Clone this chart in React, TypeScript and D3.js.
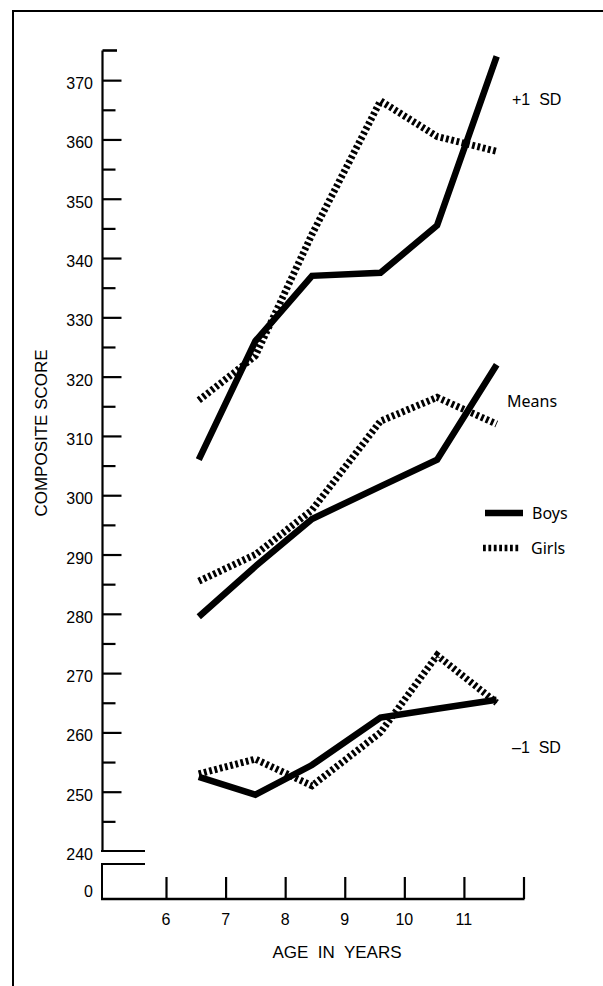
import React, { useEffect, useRef } from 'react';
import * as d3 from 'd3';

// ages of the six groups (mean age)
const ages = [6.55, 7.5, 8.45, 9.6, 10.55, 11.55];

// composite scores
const boysPlusSD = [306, 326, 337, 337.5, 345.5, 374];
const girlsPlusSD = [316, 323.5, 344, 366.5, 360.5, 358];
const boysMeans = [279.5, 288, 296, 301.5, 306, 322];
const girlsMeans = [285.5, 290, 297.5, 312.5, 316.5, 312];
const boysMinusSD = [252.5, 249.5, 254.5, 262.5, 264, 265.5];
const girlsMinusSD = [253, 255.5, 251, 260, 273, 265];

const yMajorTicks = [250, 260, 270, 280, 290, 300, 310, 320, 330, 340, 350, 360, 370];
const yMinorTicks = [245, 255, 265, 275, 285, 295, 305, 315, 325, 335, 345, 355, 365];
const yLabels = [240, 250, 260, 270, 280, 290, 300, 310, 320, 330, 340, 350, 360, 370];
const xTicks = [6, 7, 8, 9, 10, 11, 12];
const xLabels = ['6', '7', '8', '9', '10', '11', ''];

const groupLabels = [
  { text: '+1\u00a0\u00a0SD', x: 512, y: 105 },
  { text: 'Means', x: 507, y: 407 },
  { text: '\u20131\u00a0\u00a0SD', x: 512, y: 753 },
];

const font = "'Liberation Sans', Arial, Helvetica, sans-serif";
const softFont = "'Noto Sans', 'Open Sans', sans-serif";

const App = () => {
  const chartRef = useRef<SVGSVGElement>(null);

  useEffect(() => {
    const width = 603;
    const height = 986;

    d3.select(chartRef.current).selectAll('*').remove();

    const svg = d3.select(chartRef.current)
      .attr('width', width)
      .attr('height', height);

    const x = d3.scaleLinear().domain([6, 12]).range([166, 523.5]);
    const y = d3.scaleLinear().domain([240, 375]).range([851, 50.5]);
    const axisX = 102.5;
    const baseY = 899;

    // outer frame
    svg.append('path')
      .attr('d', `M13,${height} V11 H${width}`)
      .attr('fill', 'none')
      .attr('stroke', '#000')
      .attr('stroke-width', 2);

    // y axis line
    svg.append('line')
      .attr('x1', axisX).attr('x2', axisX)
      .attr('y1', y(375)).attr('y2', y(240))
      .attr('stroke', '#000').attr('stroke-width', 2.2);

    // top end tick
    svg.append('line')
      .attr('x1', axisX).attr('x2', 117)
      .attr('y1', y(375)).attr('y2', y(375))
      .attr('stroke', '#000').attr('stroke-width', 2.6);

    // 240 end with the break
    svg.append('path')
      .attr('d', `M101,${y(240)} H145 M101,864 H145 M102,864 V${baseY}`)
      .attr('fill', 'none')
      .attr('stroke', '#000').attr('stroke-width', 2);

    const major = svg.append('g')
      .attr('transform', `translate(${axisX},0)`)
      .call(d3.axisRight(y).tickValues(yMajorTicks).tickSize(19).tickSizeOuter(0).tickFormat(() => ''));
    major.select('.domain').remove();
    major.selectAll('line').attr('stroke-width', 2.2);

    const minor = svg.append('g')
      .attr('transform', `translate(${axisX},0)`)
      .call(d3.axisRight(y).tickValues(yMinorTicks).tickSize(13).tickSizeOuter(0).tickFormat(() => ''));
    minor.select('.domain').remove();
    minor.selectAll('line').attr('stroke-width', 2.2);

    svg.append('g')
      .selectAll('text')
      .data(yLabels)
      .enter().append('text')
      .attr('x', 93)
      .attr('y', d => y(d) + 9)
      .attr('text-anchor', 'end')
      .attr('font-family', font)
      .attr('font-size', 16)
      .text(d => d);

    svg.append('text')
      .attr('x', 93).attr('y', 897)
      .attr('text-anchor', 'end')
      .attr('font-family', font)
      .attr('font-size', 16)
      .text('0');

    svg.append('text')
      .attr('transform', 'translate(47,433) rotate(-90)')
      .attr('text-anchor', 'middle')
      .attr('font-family', font)
      .attr('font-size', 17)
      .text('COMPOSITE SCORE');

    // x axis
    svg.append('line')
      .attr('x1', 101).attr('x2', x(12) + 1)
      .attr('y1', baseY).attr('y2', baseY)
      .attr('stroke', '#000').attr('stroke-width', 2.6);

    const xAxis = svg.append('g')
      .attr('transform', `translate(0,${baseY})`)
      .call(d3.axisTop(x).tickValues(xTicks).tickSize(22).tickSizeOuter(0).tickFormat(() => ''));
    xAxis.select('.domain').remove();
    xAxis.selectAll('line').attr('stroke-width', 2.2);

    svg.append('g')
      .selectAll('text')
      .data(xTicks)
      .enter().append('text')
      .attr('x', d => x(d))
      .attr('y', 925)
      .attr('text-anchor', 'middle')
      .attr('font-family', font)
      .attr('font-size', 16)
      .text((d, i) => xLabels[i]);

    svg.append('text')
      .attr('x', 337).attr('y', 958)
      .attr('text-anchor', 'middle')
      .attr('font-family', font)
      .attr('font-size', 17)
      .style('white-space', 'pre')
      .text('AGE  IN  YEARS');

    // lines
    const line = d3.line<number>()
      .x((d, i) => x(ages[i]))
      .y(d => y(d));

    const drawBoys = (vals: number[]) => svg.append('path')
      .attr('d', line(vals))
      .attr('fill', 'none')
      .attr('stroke', '#000')
      .attr('stroke-width', 6.5)
      .attr('stroke-linejoin', 'miter');

    const drawGirls = (vals: number[]) => svg.append('path')
      .attr('d', line(vals))
      .attr('fill', 'none')
      .attr('stroke', '#000')
      .attr('stroke-width', 7)
      .attr('stroke-dasharray', '2.8,2.6');

    [girlsPlusSD, girlsMeans, girlsMinusSD].forEach(drawGirls);
    [boysPlusSD, boysMeans, boysMinusSD].forEach(drawBoys);

    // group labels
    svg.append('g')
      .selectAll('text')
      .data(groupLabels)
      .enter().append('text')
      .attr('x', d => d.x)
      .attr('y', d => d.y)
      .attr('font-family', (d, i) => (i === 1 ? softFont : font))
      .attr('font-size', 16)
      .style('white-space', 'pre')
      .text(d => d.text);

    // legend
    const legend = svg.append('g');
    legend.append('line')
      .attr('x1', 485).attr('x2', 523).attr('y1', 513).attr('y2', 513)
      .attr('stroke', '#000').attr('stroke-width', 6.5);
    legend.append('line')
      .attr('x1', 483).attr('x2', 520).attr('y1', 548).attr('y2', 548)
      .attr('stroke', '#000').attr('stroke-width', 6.5)
      .attr('stroke-dasharray', '2.8,2.6');
    legend.append('text')
      .attr('x', 532).attr('y', 519)
      .attr('font-family', softFont).attr('font-size', 16)
      .text('Boys');
    legend.append('text')
      .attr('x', 531).attr('y', 554)
      .attr('font-family', softFont).attr('font-size', 16)
      .text('Girls');
  }, []);

  return (
    <svg ref={chartRef} style={{ position: 'absolute', left: 0, top: 0, background: '#fff' }}></svg>
  );
};

export default App;
